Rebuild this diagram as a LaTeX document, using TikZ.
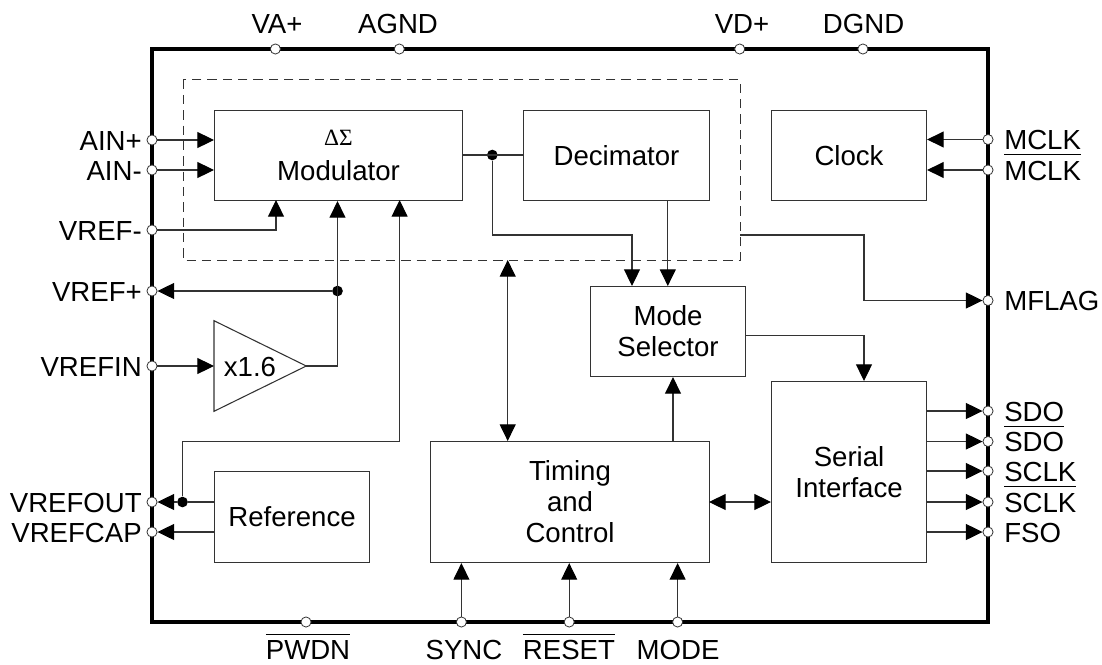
\documentclass[tikz,border=0pt]{standalone}
\usepackage{fontspec}
\setmainfont{Liberation Sans}
\newfontfamily\grk{Liberation Serif}
\usetikzlibrary{arrows.meta}
\tikzset{
  x=0.75pt,y=-0.75pt,
  wire/.style={line width=0.8pt,color=black!80},
  arr/.style={wire,-{Triangle[length=12.5pt,width=12pt,color=black]}},
  rarr/.style={wire,{Triangle[length=12.5pt,width=12pt,color=black]}-},
  darr/.style={wire,{Triangle[length=12.5pt,width=12pt,color=black]}-{Triangle[length=12.5pt,width=12pt,color=black]}},
  blockbox/.style={draw=black!80,line width=0.8pt,fill=white,inner sep=0pt,align=center,font=\fontsize{20.7}{23.2}\selectfont},
  pin/.style={circle,draw=black!80,fill=white,line width=0.6pt,inner sep=0pt,minimum size=7.6pt},
  dot/.style={circle,fill=black,inner sep=0pt,minimum size=8pt},
  lab/.style={font=\fontsize{20.7}{23}\selectfont,inner sep=0pt}
}
\newcommand{\bl}[6]{\node[blockbox,minimum width=#4*0.75pt-#2*0.75pt,minimum height=#5*0.75pt-#3*0.75pt,anchor=north west] (#1) at (#2,#3) {#6};}
\newcommand{\ovl}[1]{\sbox0{#1}\leavevmode\rlap{\raisebox{18.5pt}{\rule{\wd0}{0.8pt}}}#1}
\begin{document}
\begin{tikzpicture}
\useasboundingbox (0,0) rectangle (1102,664);
\fill[white] (0,0) rectangle (1102,664);
\draw[line width=3.4pt,miter limit=10] (152,49) rectangle (988,622);
\draw[dashed,dash pattern=on 7pt off 4.5pt,line width=0.6pt,black!80] (183,79.5) rectangle (740,260);
\coordinate (dashE) at (740,235);
\coordinate (dashS) at (507.7,260);
% blocks
\bl{mod}{214}{110}{462}{200}{{\grk\fontsize{17.5}{23.2}\selectfont ΔΣ}\\[3pt]Modulator}
\bl{dec}{523}{110}{709}{200}{Decimator}
\bl{clk}{771}{110}{926}{200}{Clock}
\bl{msel}{590}{286}{745}{376}{Mode\\Selector}
\bl{ser}{771}{381}{926}{562}{Serial\\Interface}
\bl{tim}{430}{441}{709}{562}{Timing\\and\\Control}
\bl{ref}{214}{471}{369}{562}{Reference}
% amplifier
\draw[wire] (214,320.7) -- (306.3,366) -- (214,411.3) -- cycle;
\coordinate (ampIn) at (214,366);
\coordinate (ampOut) at (306.3,366);
\node[lab] (amp) at (250,367) {x1.6};
% pins
\foreach \n/\x/\y in {pVA/275.4/49,pAG/399.3/49,pVD/739.7/49,pDG/862.9/49,
  pAP/152/140,pAM/152/170,pVM/152/230,pVP/152/291,pVI/152/366,pVO/152/502,pVC/152/532,
  pMC/988/139.5,pMB/988/170,pMF/988/300.5,pSD/988/411,pSB/988/441.5,pSC/988/471,pSE/988/502,pFS/988/532,
  pPW/306/622,pSY/461.4/622,pRS/569.2/622,pMO/677.6/622}
  {\node[pin] (\n) at (\x,\y) {};}
% junction dots
\node[dot] (jA) at (492.3,155) {};
\node[dot] (jB) at (337.5,291) {};
\node[dot] (jC) at (182.5,502) {};
% connectors
\draw[arr] (pAP) -- (pAP -| mod.west);
\draw[arr] (pAM) -- (pAM -| mod.west);
\coordinate (mVM) at (276,200);
\draw[arr] (pVM) -- (pVM -| mVM) -- (mVM);
\draw[arr] (ampOut) -- (ampOut -| jB) -- (jB |- mod.south);
\draw[arr] (jB) -- (pVP);
\draw[arr] (pVI) -- (ampIn);
\coordinate (mVO) at (399.6,200);
\draw[arr] (jC) -- (jC |- 0,441.7) -- (mVO |- 0,441.7) -- (mVO);
\draw[wire] (ref.west |- jC) -- (jC);
\draw[arr] (jC) -- (pVO);
\draw[arr] (ref.west |- pVC) -- (pVC);
\draw[wire] (mod.east |- jA) -- (dec.west |- jA);
\coordinate (mX) at (632,286);
\draw[arr] (jA) -- (jA |- dashE) -- (mX |- dashE) -- (mX);
\coordinate (dX) at (667.8,200);
\draw[arr] (dX) -- (dX |- msel.north);
\coordinate (tX) at (673,441);
\draw[arr] (tX) -- (tX |- msel.south);
\draw[darr] (dashS) -- (dashS |- tim.north);
\coordinate (rX) at (864,235);
\draw[arr] (dashE) -- (rX) -- (rX |- pMF) -- (pMF);
\coordinate (sX) at (745,335.7);
\draw[arr] (sX) -- (sX -| rX) -- (rX |- ser.north);
\coordinate (tsY) at (709,502);
\draw[darr] (tsY) -- (tsY -| ser.west);
\draw[arr] (pMC) -- (pMC -| clk.east);
\draw[arr] (pMB) -- (pMB -| clk.east);
\foreach \p in {pSD,pSB,pSC,pSE,pFS} {\draw[arr] (ser.east |- \p) -- (\p);}
\foreach \p in {pSY,pRS,pMO} {\draw[arr] (\p) -- (\p |- tim.south);}
% labels
\foreach \n/\x/\t in {lVA/277/VA+,lAG/398/AGND,lVD/742/VD+,lDG/863.6/DGND}
  {\node[lab,anchor=base] (\n) at (\x,33.5) {\t};}
\foreach \n/\y/\t in {lAP/140/AIN+,lAM/170/AIN-,lVM/230/VREF-,lVP/291/VREF+,lVI/366/VREFIN,lVO/502/VREFOUT,lVC/532/VREFCAP}
  {\node[lab,anchor=base east] (\n) at (142,\y+10) {\t};}
\foreach \n/\y/\t in {lMC/139.5/MCLK,lMB/170/\ovl{MCLK},lMF/300.5/MFLAG,lSD/411/SDO,lSB/441.5/\ovl{SDO},lSC/471/SCLK,lSE/502/\ovl{SCLK},lFS/532/FSO}
  {\node[lab,anchor=base west] (\n) at (1004,\y+10) {\t};}
\foreach \n/\x/\t in {lPW/308/\ovl{PWDN},lSY/464/SYNC,lRS/569/\ovl{RESET},lMO/678/MODE}
  {\node[lab,anchor=base] (\n) at (\x,659.5) {\t};}
\end{tikzpicture}
\end{document}
